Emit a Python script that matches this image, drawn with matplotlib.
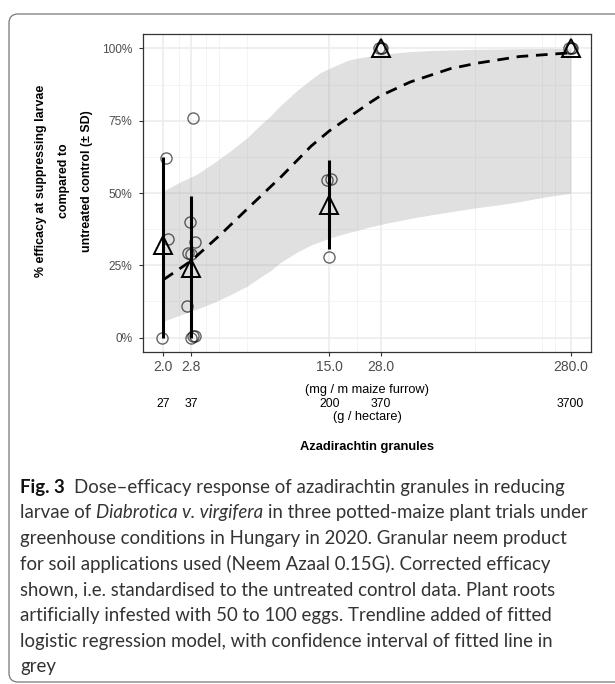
import matplotlib
matplotlib.use('Agg')
import matplotlib.pyplot as plt
import matplotlib.transforms as mtransforms
from matplotlib.patches import FancyBboxPatch
from matplotlib.ticker import NullLocator
import numpy as np

# doses (mg / m maize furrow) and the matching g / hectare
doses = [2.0, 2.8, 15.0, 28.0, 280.0]
dose_labels = ['2.0', '2.8', '15.0', '28.0', '280.0']
hectare_labels = ['27', '37', '200', '370', '3700']

# single pots, dose as jittered in the figure, % efficacy
pts_dose = [1.97, 2.07, 2.11,
            2.86, 2.77, 2.92, 2.69, 2.80, 2.67, 2.80, 2.87, 2.93,
            15.2, 14.6, 14.9,
            27.4, 28.0, 28.5,
            276.0, 280.0, 283.0]
pts_eff = [0, 62, 34,
           76, 40, 33, 29.3, 29, 10.8, 0, 0.5, 0.5,
           55, 54.5, 28,
           100, 100, 100,
           100, 100, 100]

# treatment means with +- SD range (cut at 0 / 100)
mean_eff = [32, 24.2, 45.8, 100, 100]
sd_low = [0, 0, 30.8, 100, 100]
sd_high = [62.5, 49, 61.3, 100, 100]

# fitted logistic trend line
fit_dose = [2.0, 2.8, 4.0, 5.7, 8.4, 12.0, 15.0, 18.6, 24.7, 28.0, 40.0, 65.0, 90.0, 150.0, 280.0]
fit_eff = [20.0, 26.5, 35.6, 45.3, 55.8, 66.2, 71.5, 75.8, 81.4, 83.7, 88.4, 93.0, 94.9, 97.2, 98.5]

# confidence interval of the fitted line
ci_dose = [2.0, 2.4, 3.0, 3.8, 4.5, 5.5, 6.7, 7.3, 8.2, 10.1, 12.0, 13.4, 15.2, 18.6,
           20.8, 24.7, 28.6, 40, 52, 89, 120, 150, 204, 280]
ci_high = [50.7, 53.5, 56.5, 61, 64.5, 69, 74.4, 76.5, 80, 85.4, 89.3, 91.6, 93.3, 95.8,
           96.6, 97.4, 98, 98.9, 99.3, 99.7, 99.8, 99.9, 100, 100]
ci_low = [5.6, 7.6, 9.8, 12.5, 14.8, 17.7, 21.5, 23.0, 25.8, 29.5, 32.0, 33.2, 34.5, 36.2,
          37.0, 38.3, 39.3, 41.2, 42.5, 44.9, 46.0, 47.0, 48.6, 49.9]

minor_x = [2.43, 3.36, 3.94, 5.5, 20.9, 87.7, 198, 232]

W, H = 615, 684
fig = plt.figure(figsize=(W / 100, H / 100), dpi=100)
ax = fig.add_axes([143 / W, 1 - 352 / H, 448 / W, 318 / H])
ax.set_xscale('log')
lo, hi = np.log10(min(doses)), np.log10(max(doses))
pad = 0.05 * (hi - lo)
ax.set_xlim(10 ** (lo - pad), 10 ** (hi + pad))
ax.set_ylim(-5, 105)

# grid
for x in minor_x:
    ax.axvline(x, color='#f2f2f2', lw=0.6, zorder=0)
for y in [12.5, 37.5, 62.5, 87.5]:
    ax.axhline(y, color='#f2f2f2', lw=0.6, zorder=0)
for x in doses:
    ax.axvline(x, color='#ebebeb', lw=1.1, zorder=0)
for y in [0, 25, 50, 75, 100]:
    ax.axhline(y, color='#ebebeb', lw=1.1, zorder=0)

ax.fill_between(ci_dose, ci_low, ci_high, color='#999999', alpha=0.3, lw=0, zorder=1)
ax.plot(fit_dose, fit_eff, color='black', lw=2.0, dashes=(4.2, 2.8), zorder=2)
ax.vlines(doses, sd_low, sd_high, color='black', lw=2.2, zorder=3)
ax.plot(pts_dose, pts_eff, 'o', ms=8, mfc='none', mec=(0, 0, 0, 0.6), mew=1.0, zorder=4)
ax.plot(doses, mean_eff, '^', ms=12.5, mfc='none', mec='black', mew=1.4, zorder=5)

ax.set_xticks(doses)
ax.set_xticklabels(dose_labels)
ax.xaxis.set_minor_locator(NullLocator())
ax.set_yticks([0, 25, 50, 75, 100])
ax.set_yticklabels(['0%', '25%', '50%', '75%', '100%'])
ax.tick_params(axis='x', colors='#333333', labelcolor='#4d4d4d', labelsize=10, length=3, width=0.8, pad=3)
ax.tick_params(axis='y', colors='#333333', labelcolor='#4d4d4d', labelsize=8.6, length=3, width=0.8, pad=4.5)
for s in ax.spines.values():
    s.set_color('#333333')
    s.set_linewidth(0.9)
for lab in ax.get_xticklabels() + ax.get_yticklabels():
    lab.set_family('Liberation Sans')

fig.text(64 / W, 1 - 181 / H,
         '% efficacy at suppressing larvae\ncompared to\nuntreated control (\u00b1 SD)',
         rotation=90, ha='center', va='center', fontsize=8.9, fontweight='bold',
         family='Liberation Sans', linespacing=2.2, multialignment='center')

fx = 367 / W
fig.text(fx, 1 - 390 / H, '(mg / m maize furrow)', ha='center', va='center',
         fontsize=9.2, family='Liberation Sans')
blend = mtransforms.blended_transform_factory(ax.transData, fig.transFigure)
for d, lab in zip(doses, hectare_labels):
    ax.text(d, 1 - 404 / H, lab, transform=blend, ha='center', va='center',
            fontsize=8.8, family='Liberation Sans')
fig.text(fx, 1 - 417 / H, '(g / hectare)', ha='center', va='center',
         fontsize=9.2, family='Liberation Sans')
fig.text(fx, 1 - 447 / H, 'Azadirachtin granules', ha='center', va='center',
         fontsize=9.3, fontweight='bold', family='Liberation Sans')

# caption
cap = [
    [('Fig. 3', 'bold'), ('Dose\u2013efficacy response of azadirachtin granules in reducing', 'normal')],
    [('larvae of', 'normal'), ('Diabrotica v. virgifera', 'italic'), ('in three potted-maize plant trials under', 'normal')],
    [('greenhouse conditions in Hungary in 2020. Granular neem product', 'normal')],
    [('for soil applications used (Neem Azaal 0.15G). Corrected efficacy', 'normal')],
    [('shown, i.e. standardised to the untreated control data. Plant roots', 'normal')],
    [('artificially infested with 50 to 100 eggs. Trendline added of fitted', 'normal')],
    [('logistic regression model, with confidence interval of fitted line in', 'normal')],
    [('grey', 'normal')],
]
cap_font = 'Lato'
renderer = fig.canvas.get_renderer()


def text_width(s, size, style):
    t = fig.text(0, 0, s, fontsize=size, family=cap_font,
                 fontweight='bold' if style == 'bold' else 'normal',
                 fontstyle='italic' if style == 'italic' else 'normal')
    w = t.get_window_extent(renderer).width
    t.remove()
    return w


size = 12
w3 = text_width(cap[2][0][0], size, 'normal')
size = size * 548 / w3
space = text_width('a a', size, 'normal') - text_width('aa', size, 'normal')

y0 = 487
for i, line in enumerate(cap):
    x = 20
    for j, (s, style) in enumerate(line):
        if j > 0:
            x += space * (2 if line[0][0] == 'Fig. 3' else 1)
        col = '#111111' if style == 'bold' else '#333333'
        fig.text(x / W, 1 - (y0 + i * 25.7) / H, s, fontsize=size, family=cap_font,
                 color=col, va='center', ha='left',
                 fontweight='bold' if style == 'bold' else 'normal',
                 fontstyle='italic' if style == 'italic' else 'normal')
        x += text_width(s, size, style)

# rounded frame around the figure
frame = FancyBboxPatch((9, 2), 640, 668, boxstyle='round,pad=0,rounding_size=9',
                       transform=mtransforms.IdentityTransform(), fill=False,
                       ec='#777777', lw=0.9)
fig.patches.append(frame)

fig.savefig('out.png', dpi=100)
